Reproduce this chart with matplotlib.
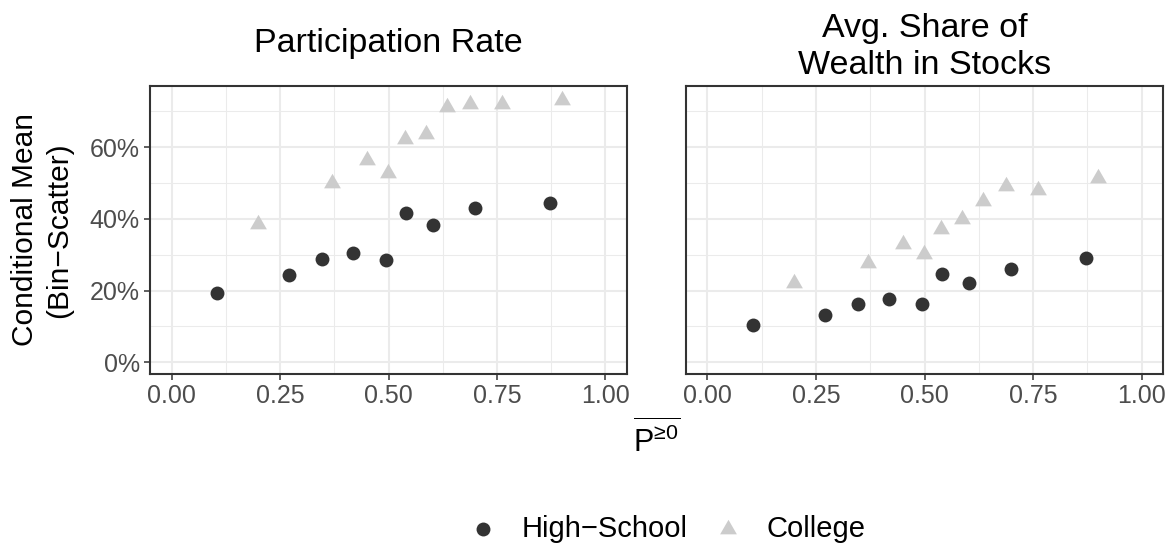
import matplotlib
matplotlib.use('Agg')
import matplotlib.pyplot as plt
from matplotlib.ticker import PercentFormatter, MultipleLocator

plt.rcParams['font.family'] = ['Liberation Sans', 'DejaVu Sans']
plt.rcParams['mathtext.fontset'] = 'custom'
plt.rcParams['mathtext.rm'] = 'Liberation Sans'
plt.rcParams['mathtext.it'] = 'Liberation Sans:italic'

# bin-scatter data (x = average P>=0 in bin, y = conditional mean in %)
hs_x = [0.105, 0.271, 0.347, 0.418, 0.495, 0.540, 0.603, 0.699, 0.873]
hs_participation = [19.4, 24.3, 28.8, 30.5, 28.4, 41.6, 38.3, 43.1, 44.4]
hs_share = [10.4, 13.2, 16.3, 17.6, 16.2, 24.5, 22.1, 26.0, 29.0]

col_x = [0.199, 0.370, 0.450, 0.498, 0.539, 0.587, 0.634, 0.687, 0.762, 0.900]
col_participation = [38.6, 49.9, 56.4, 52.9, 62.2, 63.7, 71.1, 72.2, 72.2, 73.3]
col_share = [22.0, 27.7, 32.9, 30.2, 37.3, 39.9, 45.0, 49.3, 48.0, 51.3]

W, H = 1173, 550
fig = plt.figure(figsize=(W / 100, H / 100), dpi=100)

def px_axes(left, top, right, bottom):
    return fig.add_axes([left / W, 1 - bottom / H, (right - left) / W, (bottom - top) / H])

ax1 = px_axes(150, 86, 627, 374)
ax2 = px_axes(685.7, 86, 1163.3, 374)

tri = [(0, 1), (-0.866, -0.5), (0.866, -0.5)]
hs_color = '#333333'
col_color = '#CCCCCC'

for ax, hs_y, col_y in [(ax1, hs_participation, col_participation), (ax2, hs_share, col_share)]:
    ax.scatter(hs_x, hs_y, s=100, color=hs_color, marker='o', linewidths=0, zorder=3, label='High\u2212School')
    ax.scatter(col_x, col_y, s=195, color=col_color, marker=tri, linewidths=0, zorder=3, label='College')
    ax.set_xlim(-0.05, 1.05)
    ax.set_ylim(-3.3, 77.1)
    ax.xaxis.set_major_locator(MultipleLocator(0.25))
    ax.xaxis.set_minor_locator(MultipleLocator(0.125))
    ax.yaxis.set_major_locator(MultipleLocator(20))
    ax.yaxis.set_minor_locator(MultipleLocator(10))
    ax.xaxis.set_major_formatter(lambda v, p: f'{v:.2f}')
    ax.yaxis.set_major_formatter(PercentFormatter(100, decimals=0))
    ax.grid(which='major', color='#EBEBEB', linewidth=1.5)
    ax.grid(which='minor', color='#EBEBEB', linewidth=0.75)
    ax.set_axisbelow(True)
    for sp in ax.spines.values():
        sp.set_color('#333333')
        sp.set_linewidth(1.5)
    ax.tick_params(which='major', length=4.3, width=1.1, color='#333333',
                   labelsize=18, labelcolor='#4D4D4D', pad=3)
    ax.tick_params(which='minor', length=0)

ax2.tick_params(axis='y', which='major', length=0, labelleft=False)

fig.text(388.5 / W, 1 - 51.7 / H, 'Participation Rate', ha='center', va='baseline', fontsize=24.5)
fig.text(924.5 / W, 1 - 36.7 / H, 'Avg. Share of', ha='center', va='baseline', fontsize=24.5)
fig.text(924.5 / W, 1 - 74 / H, 'Wealth in Stocks', ha='center', va='baseline', fontsize=24.5)

fig.text(42 / W, 1 - 230 / H, 'Conditional Mean\n(Bin\u2212Scatter)', rotation=90,
         ha='center', va='center', multialignment='center', fontsize=21.5, linespacing=1.25)

fig.text(656.5 / W, 1 - 419 / H, r'$\overline{\mathrm{P}^{\mathrm{≥0}}}$', ha='center', va='top', fontsize=22)

handles, labels = ax1.get_legend_handles_labels()
fig.legend(handles, labels, loc='center', bbox_to_anchor=(667 / W, 1 - 529 / H), ncol=2,
           frameon=False, fontsize=21, handlelength=1.0, handletextpad=0.81, columnspacing=0.88,
           borderpad=0)

fig.savefig('out.png', dpi=100)
